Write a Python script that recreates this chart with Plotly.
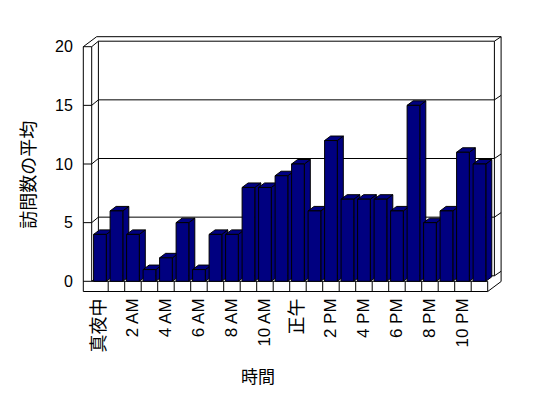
import plotly.graph_objects as go

# ---------------- data ----------------
hour_labels = ["真夜中", "1 AM", "2 AM", "3 AM", "4 AM", "5 AM", "6 AM", "7 AM",
               "8 AM", "9 AM", "10 AM", "11 AM", "正午", "1 PM", "2 PM", "3 PM",
               "4 PM", "5 PM", "6 PM", "7 PM", "8 PM", "9 PM", "10 PM", "11 PM"]
avg_visits = [4, 6, 4, 1, 2, 5, 1, 4, 4, 8, 8, 9, 10, 6, 12, 7, 7, 7, 6, 15, 5, 6, 11, 10]
y_ticks = [0, 5, 10, 15, 20]
x_title = "時間"
y_title = "訪問数の平均"

# ---------------- geometry (screen pixel mapping) ----------------
OFF = 8                      # default page body margin
W, H = 540, 390
L, R, T, B = 74, 30, 22, 96
PW, PH = W - L - R, H - T - B
SX0, SX1 = L + OFF, W - R + OFF      # plot left/right on screen
SY0, SY1 = T + OFF, H - B + OFF      # plot top/bottom on screen
X0PX, CW = 91.7, 16.5      # screen px of category area left edge, px per category
Y0PX, YU = 281.3, 11.73    # screen px of value 0, px per unit


def xd(px):
    return (px - X0PX) / CW - 0.5


def yd(py):
    return (Y0PX - py) / YU


NCAT = len(avg_visits)
YMAX = y_ticks[-1]
cat_l, cat_r = -0.5, NCAT - 0.5
wall_out = -0.5 - 8.4 / CW
din = (6.7 / CW, 5.5 / YU)       # depth to back wall front face
dtot = (13.4 / CW, 10.0 / YU)    # total depth (back face)
floor_bot = -10.2 / YU
hw = 0.385
bdx, bdy = 6.0 / CW, 4.5 / YU
NAVY = "#000080"
FONT = "Liberation Sans, Arial, Noto Sans CJK JP"
CJK = "Noto Sans CJK JP, Liberation Sans"

shapes = []


def seg(x0, y0, x1, y1):
    shapes.append(dict(type="line", xref="x", yref="y", x0=x0, y0=y0, x1=x1, y1=y1,
                       line=dict(color="black", width=1), layer="below"))


for v in y_ticks:
    seg(cat_l + din[0], v + din[1], cat_r + din[0], v + din[1])   # back wall gridline
    seg(cat_l, v, cat_l + din[0], v + din[1])                     # left wall diagonal
    seg(wall_out, v, cat_l, v)                                    # tick on left wall edge
    seg(cat_r + din[0], v + din[1], cat_r + dtot[0], v + dtot[1]) # right edge diagonal
seg(cat_l + din[0], din[1], cat_l + din[0], YMAX + din[1])
seg(cat_r + din[0], din[1], cat_r + din[0], YMAX + din[1])
seg(wall_out + dtot[0], YMAX + dtot[1], cat_r + dtot[0], YMAX + dtot[1])
seg(cat_r + dtot[0], dtot[1] + floor_bot, cat_r + dtot[0], YMAX + dtot[1])
seg(wall_out, floor_bot, wall_out, YMAX)
seg(cat_l, 0, cat_l, YMAX)
seg(wall_out, YMAX, wall_out + dtot[0], YMAX + dtot[1])
seg(wall_out, floor_bot, cat_r, floor_bot)
seg(cat_l, 0, cat_r, 0)
seg(cat_r, floor_bot, cat_r, 0)
for k in range(1, NCAT):
    seg(cat_l + k, floor_bot, cat_l + k, 0)
seg(cat_r, floor_bot, cat_r + dtot[0], floor_bot + dtot[1])

# ---------------- bars (3D faces from data) ----------------
fx, fy, sx, sy, tx, ty = [], [], [], [], [], []
for i, v in enumerate(avg_visits):
    fx += [i - hw, i + hw, i + hw, i - hw, i - hw, None]
    fy += [0, 0, v, v, 0, None]
    sx += [i + hw, i + hw + bdx, i + hw + bdx, i + hw, i + hw, None]
    sy += [0, bdy, v + bdy, v, 0, None]
    tx += [i - hw, i - hw + bdx, i + hw + bdx, i + hw, i - hw, None]
    ty += [v, v + bdy, v + bdy, v, v, None]

fig = go.Figure()
for xs, ys in ((sx, sy), (tx, ty), (fx, fy)):
    fig.add_trace(go.Scatter(x=xs, y=ys, mode="lines", fill="toself", fillcolor=NAVY,
                             line=dict(color="black", width=1), hoverinfo="skip",
                             showlegend=False))

tickvals = list(range(0, NCAT, 2))
ticktext = []
for i in tickvals:
    lab = hour_labels[i]
    if any(ord(c) > 0x2000 for c in lab):
        lab = '<span style="font-size:18px">' + lab + '</span>'
    ticktext.append(lab)

fig.update_layout(
    width=W, height=H,
    margin=dict(l=L, r=R, t=T, b=B, pad=0, autoexpand=False),
    paper_bgcolor="white", plot_bgcolor="white",
    font=dict(family=FONT, size=15, color="black"),
    shapes=shapes,
    xaxis=dict(range=[xd(SX0), xd(SX1)], showgrid=False, zeroline=False, showline=False,
               tickmode="array", tickvals=tickvals, ticktext=ticktext, tickangle=-90,
               ticks="", ticklabelstandoff=-8, tickfont=dict(size=17),
               fixedrange=True, automargin=False),
    yaxis=dict(range=[yd(SY1), yd(SY0)], showgrid=False, zeroline=False, showline=False,
               tickmode="array", tickvals=y_ticks, ticks="outside", ticklen=5,
               tickcolor="rgba(0,0,0,0)", tickfont=dict(size=16),
               fixedrange=True, automargin=False),
    annotations=[
        dict(text=x_title, xref="paper", yref="paper",
             x=(258 - SX0) / PW, y=(SY1 - 375.5) / PH, showarrow=False,
             font=dict(family=CJK, size=17), xanchor="center", yanchor="middle"),
        dict(text=y_title, xref="paper", yref="paper", textangle=-90,
             x=(26.7 - SX0) / PW, y=(SY1 - 175) / PH, showarrow=False,
             font=dict(family=CJK, size=18), xanchor="center", yanchor="middle"),
    ],
)

fig.write_html("out.html")
